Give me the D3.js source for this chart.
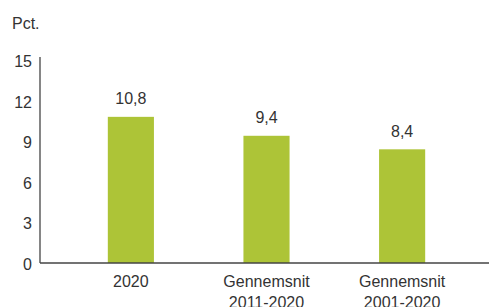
<html lang="da">
<head>
<meta charset="utf-8">
<title>Pct.</title>
<script src="https://cdnjs.cloudflare.com/ajax/libs/d3/7.8.5/d3.min.js"></script>
<style>
  body { margin: 0; background: white; font-family: "Liberation Sans", Arial, Helvetica, sans-serif; }
  svg { display: block; }
  text { fill: #333; font-size: 16px; }
  .domain, .baseline { stroke: #444; stroke-width: 1.3; fill: none; }
</style>
</head>
<body>
<script>
var categories = [["2020"], ["Gennemsnit", "2011-2020"], ["Gennemsnit", "2001-2020"]];
var values = [10.8, 9.4, 8.4];
var valueLabels = ["10,8", "9,4", "8,4"];
var yTicks = [0, 3, 6, 9, 12, 15];
var unitLabel = "Pct.";

var fullwidth = 489, fullheight = 307;
var left = 40, baseY = 263, topY = 60;

var svg = d3.select("body").append("svg")
  .attr("width", fullwidth)
  .attr("height", fullheight);

var yScale = d3.scaleLinear().domain([0, 15]).range([baseY, topY]);
var xScale = d3.scaleBand()
  .domain(d3.range(categories.length))
  .range([left, 493])
  .paddingInner(0.66)
  .paddingOuter(0.5);

// bars
svg.selectAll("rect.bar")
  .data(values)
  .enter().append("rect")
  .attr("class", "bar")
  .attr("x", function(d, i) { return xScale(i); })
  .attr("y", function(d) { return yScale(d); })
  .attr("width", xScale.bandwidth())
  .attr("height", function(d) { return baseY - yScale(d); })
  .attr("fill", "#adc437");

// value labels
svg.selectAll("text.val")
  .data(values)
  .enter().append("text")
  .attr("class", "val")
  .attr("x", function(d, i) { return xScale(i) + xScale.bandwidth() / 2; })
  .attr("y", function(d) { return yScale(d) - 12.5; })
  .attr("text-anchor", "middle")
  .text(function(d, i) { return valueLabels[i]; });

// y axis: labels + vertical line
svg.selectAll("text.ytick")
  .data(yTicks)
  .enter().append("text")
  .attr("class", "ytick")
  .attr("x", 32)
  .attr("y", function(d) { return yScale(d) + 7; })
  .attr("text-anchor", "end")
  .text(function(d) { return d; });

svg.append("line")
  .attr("class", "domain")
  .attr("x1", left).attr("x2", left)
  .attr("y1", topY - 3).attr("y2", baseY);

svg.append("line")
  .attr("class", "baseline")
  .attr("x1", left).attr("x2", fullwidth)
  .attr("y1", baseY).attr("y2", baseY);

// category labels
var cat = svg.selectAll("text.cat")
  .data(categories)
  .enter().append("text")
  .attr("class", "cat")
  .attr("text-anchor", "middle")
  .attr("x", function(d, i) { return xScale(i) + xScale.bandwidth() / 2; })
  .attr("y", 287);

cat.selectAll("tspan")
  .data(function(d) { return d; })
  .enter().append("tspan")
  .attr("x", function() { return d3.select(this.parentNode).attr("x"); })
  .attr("dy", function(d, i) { return i === 0 ? 0 : 20.5; })
  .text(function(d) { return d; });

svg.append("text")
  .attr("x", 12)
  .attr("y", 29)
  .text(unitLabel);
</script>
</body>
</html>
